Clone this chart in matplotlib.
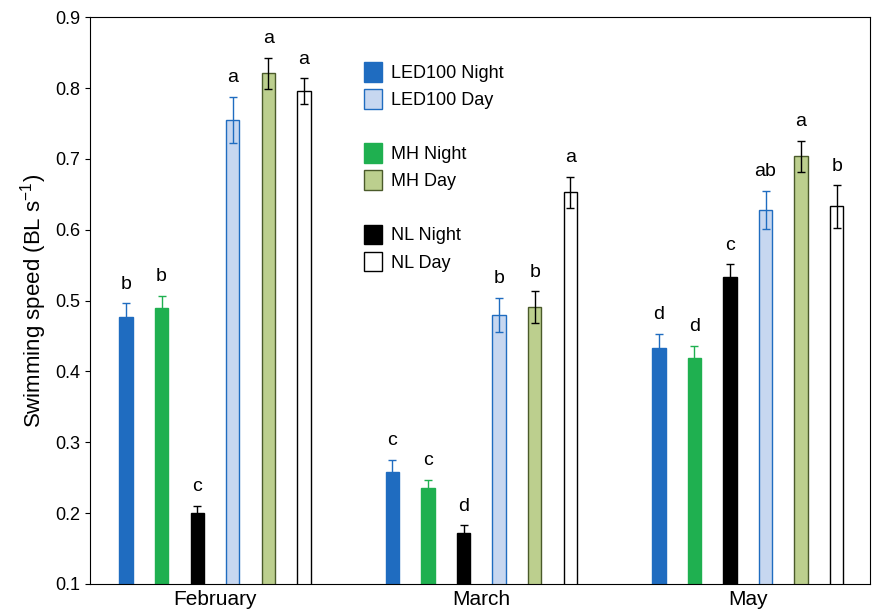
import matplotlib
matplotlib.use("Agg")
import matplotlib.pyplot as plt
from matplotlib.patches import Patch
import numpy as np

plt.rcParams["font.family"] = ["Liberation Sans", "DejaVu Sans"]
plt.rcParams["mathtext.default"] = "regular"

months = ["February", "March", "May"]
series = ["LED100 Night", "LED100 Day", "MH Night", "MH Day", "NL Night", "NL Day"]
# order on the axis: LED night, MH night, NL night, LED day, MH day, NL day
led_night = [0.477, 0.258, 0.433]
led_night_err = [0.019, 0.017, 0.020]
mh_night = [0.490, 0.235, 0.419]
mh_night_err = [0.017, 0.012, 0.017]
nl_night = [0.200, 0.172, 0.533]
nl_night_err = [0.010, 0.011, 0.018]
led_day = [0.755, 0.480, 0.628]
led_day_err = [0.033, 0.024, 0.027]
mh_day = [0.821, 0.491, 0.704]
mh_day_err = [0.022, 0.022, 0.022]
nl_day = [0.796, 0.653, 0.633]
nl_day_err = [0.018, 0.022, 0.030]
letters = [
    ["b", "b", "c", "a", "a", "a"],
    ["c", "c", "d", "b", "b", "a"],
    ["d", "d", "c", "ab", "a", "b"],
]

BLUE = "#1f6cc0"
LBLUE = "#c7d7f0"
GREEN = "#1fb050"
LGREEN = "#bccf8e"

bars = [
    (led_night, led_night_err, BLUE, BLUE, BLUE),
    (mh_night, mh_night_err, GREEN, GREEN, GREEN),
    (nl_night, nl_night_err, "black", "black", "black"),
    (led_day, led_day_err, LBLUE, BLUE, BLUE),
    (mh_day, mh_day_err, LGREEN, "#4a5a2a", "black"),
    (nl_day, nl_day_err, "white", "black", "black"),
]

fig = plt.figure(figsize=(8.8, 6.16), dpi=100)
ax = fig.add_axes([0.102, 0.052, 0.887, 0.92])
x = np.arange(len(months))
step = 0.1335
width = 0.05
for i, (vals, errs, fc, ec, errc) in enumerate(bars):
    pos = x + (i - 2.5) * step
    ax.bar(pos, vals, width, color=fc, edgecolor=ec, linewidth=1)
    ax.errorbar(pos, vals, yerr=errs, fmt="none", ecolor=errc, elinewidth=1, capsize=3)
    for j in range(len(months)):
        ax.text(pos[j], vals[j] + errs[j] + 0.015, letters[j][i], ha="center", va="bottom", fontsize=14)

ax.set_xlim(-0.47, 2.46)
ax.set_ylim(0.1, 0.9)
ax.set_xticks(x)
ax.set_xticklabels(months, fontsize=15)
ax.set_yticks(np.arange(0.1, 0.91, 0.1))
ax.set_yticklabels([f"{v:.1f}" for v in np.arange(0.1, 0.91, 0.1)], fontsize=13)
ax.set_ylabel("Swimming speed (BL s$^{-1}$)", fontsize=16)
ax.tick_params(axis="x", length=0, pad=4)

blank = Patch(visible=False)
handles = [
    Patch(facecolor=BLUE, edgecolor=BLUE), Patch(facecolor=LBLUE, edgecolor=BLUE), blank,
    Patch(facecolor=GREEN, edgecolor=GREEN), Patch(facecolor=LGREEN, edgecolor="#4a5a2a"), blank,
    Patch(facecolor="black", edgecolor="black"), Patch(facecolor="white", edgecolor="black"),
]
labels = ["LED100 Night", "LED100 Day", "", "MH Night", "MH Day", "", "NL Night", "NL Day"]
ax.legend(handles, labels, loc="upper left", bbox_to_anchor=(0.33, 0.95), frameon=False,
          fontsize=13, handlelength=1.0, handleheight=1.3, handletextpad=0.5, labelspacing=0.4)

fig.savefig("out.png", dpi=100)
